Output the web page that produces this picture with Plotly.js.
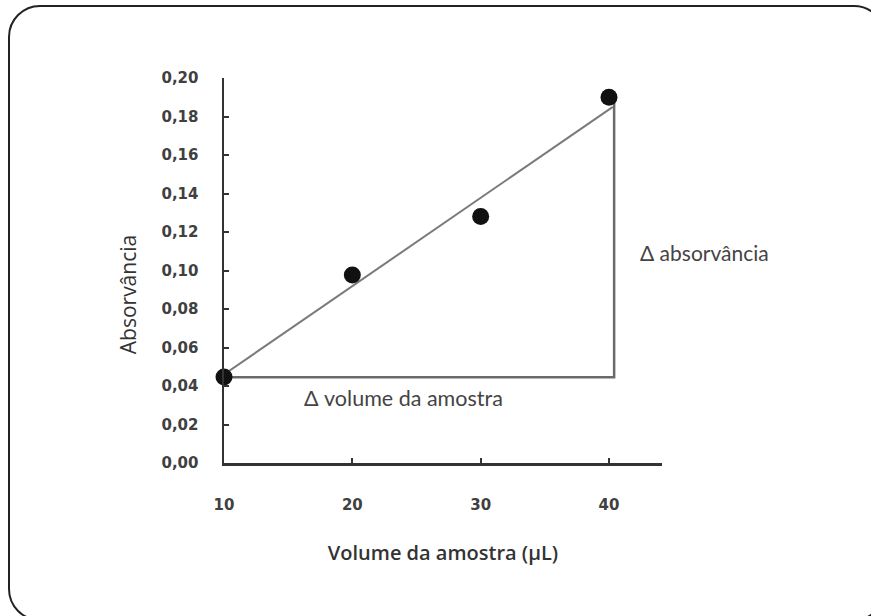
<!DOCTYPE html>
<html>
<head>
<meta charset="utf-8">
<script src="https://cdn.plot.ly/plotly-3.0.1.min.js"></script>
<style>
  html, body { margin: 0; padding: 0; overflow: hidden; background: #fff; }
  #wrap { position: relative; width: 871px; height: 616px; overflow: hidden; }
  #chart { position: absolute; left: 0; top: 0; width: 871px; height: 616px; }
  #frame { position: absolute; left: 8px; top: 5px; width: 874px; height: 612px;
           border: 2.5px solid #222; border-radius: 32px; pointer-events: none; }
</style>
</head>
<body>
<div id="wrap">
  <div id="chart"></div>
  <div id="frame"></div>
</div>
<script>
// Data
const volumes = [10, 20, 30, 40];
const absorbances = [0.0447, 0.0977, 0.128, 0.190];

// Linear trend line drawn in the figure (endpoints as read)
const trendX = [10, 40.3];
const trendY = [0.046, 0.185];

// Delta triangle drawn in the figure
const deltaX = [10, 40.4, 40.4];
const deltaY = [0.0445, 0.0445, 0.188];

const yTickVals = [0, 0.02, 0.04, 0.06, 0.08, 0.10, 0.12, 0.14, 0.16, 0.18, 0.20];
const yTickText = ['0,00', '0,02', '0,04', '0,06', '0,08', '0,10', '0,12', '0,14', '0,16', '0,18', '0,20'];
const xTickVals = [10, 20, 30, 40];
const xTickText = ['10', '20', '30', '40'];

const xTitle = 'Volume da amostra (μL)';
const yTitle = 'Absorvância';
const deltaAbsLabel = 'Δ absorvância';
const deltaVolLabel = 'Δ volume da amostra';

const traces = [
  {
    x: deltaX, y: deltaY, mode: 'lines', type: 'scatter',
    line: { color: '#6a6a6a', width: 2.5 }, hoverinfo: 'skip', showlegend: false, cliponaxis: false
  },
  {
    x: trendX, y: trendY, mode: 'lines', type: 'scatter',
    line: { color: '#7a7a7a', width: 2 }, hoverinfo: 'skip', showlegend: false, cliponaxis: false
  },
  {
    x: volumes, y: absorbances, mode: 'markers', type: 'scatter',
    marker: { color: '#111', size: 17 }, showlegend: false, cliponaxis: false
  }
];

const tickFont = { family: 'DejaVu Sans', size: 15, color: '#404040', weight: 'bold' };

const layout = {
  width: 871, height: 616,
  margin: { l: 224, r: 209, t: 78, b: 153 },
  paper_bgcolor: '#fff', plot_bgcolor: '#fff',
  showlegend: false,
  xaxis: {
    range: [10, 44.13], showgrid: false, zeroline: false,
    showline: true, linecolor: '#333', linewidth: 2.5,
    ticks: 'inside', ticklen: 5, tickwidth: 2, tickcolor: '#333',
    tickvals: xTickVals, ticktext: xTickText, tickfont: tickFont,
    ticklabelstandoff: 26,
    title: { text: xTitle, standoff: 34,
             font: { family: 'Open Sans', size: 20, color: '#333', weight: 600 } }
  },
  yaxis: {
    range: [0, 0.20], showgrid: false, zeroline: false,
    showline: true, linecolor: '#333', linewidth: 2.5,
    ticks: 'inside', ticklen: 5, tickwidth: 2, tickcolor: '#333',
    tickvals: yTickVals, ticktext: yTickText, tickfont: tickFont,
    ticklabelstandoff: 20
  },
  annotations: [
    { x: -0.219, y: 0.436, xref: 'paper', yref: 'paper', text: yTitle, showarrow: false,
      textangle: -90, font: { family: 'Open Sans', size: 21, color: '#333' },
      xanchor: 'center', yanchor: 'middle' },
    { x: 1.096, y: 0.548, xref: 'paper', yref: 'paper', text: deltaAbsLabel, showarrow: false,
      font: { family: 'Lato', size: 21, color: '#444' }, xanchor: 'center', yanchor: 'middle' },
    { x: 24.0, y: 0.0338, xref: 'x', yref: 'y', text: deltaVolLabel, showarrow: false,
      font: { family: 'Lato', size: 21.5, color: '#444' }, xanchor: 'center', yanchor: 'middle' }
  ]
};

Plotly.newPlot('chart', traces, layout, { displayModeBar: false, staticPlot: true });
</script>
</body>
</html>
